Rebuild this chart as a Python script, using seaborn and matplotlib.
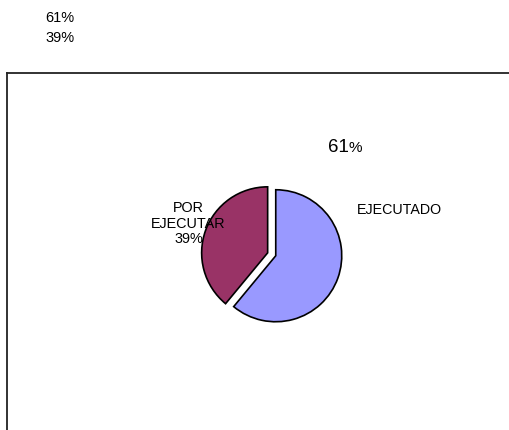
import matplotlib
matplotlib.use("Agg")
import matplotlib.pyplot as plt
import seaborn as sns

# ── Data ───────────────────────────────────────────────────────
categorias = ["EJECUTADO", "POR EJECUTAR"]
valores = [61, 39]
colores = ["#9999FF", "#993366"]

sns.set_style("white")
plt.rcParams["font.family"] = ["Liberation Sans", "DejaVu Sans"]
plt.rcParams["text.color"] = "black"

W, H = 510, 430
fig = plt.figure(figsize=(W / 100, H / 100), dpi=100)

# top-left summary texts
for i, v in enumerate(valores):
    fig.text(45 / W, 1 - (18.5 + 20 * i) / H, f"{v}%", fontsize=10.5,
             ha="left", va="center")

# axes in pixel units (box with only left and top border visible)
left, top = 7.5, 73
ax = fig.add_axes([left / W, 0, (W - left) / W, (H - top) / H])
ax.pie(valores, colors=colores, startangle=90, counterclock=False,
       explode=[4.3, 4.3], radius=66, center=(271.7, H - 254.3),
       wedgeprops=dict(edgecolor="black", linewidth=1.2), frame=True)
ax.set_xlim(left, W)
ax.set_ylim(0, H - top)
ax.set_aspect("auto")
ax.set_xticks([])
ax.set_yticks([])
for side in ["right", "bottom"]:
    ax.spines[side].set_visible(False)
for side in ["left", "top"]:
    ax.spines[side].set_visible(True)
    ax.spines[side].set_color("#222222")
    ax.spines[side].set_linewidth(1.3)

# labels
ax.text(356.5, H - 210, categorias[0], fontsize=10.3, ha="left", va="center")
ax.text(349, H - 147, f"{valores[0]}", fontsize=13.5, ha="right", va="center")
ax.text(349, H - 147.5, "%", fontsize=11, ha="left", va="center")
ax.text(188.5, H - 223.5, "POR\nEJECUTAR\n" + f"{valores[1]}%", fontsize=10.4,
        ha="center", va="center", linespacing=1.12)

fig.savefig("out.png", dpi=100)
